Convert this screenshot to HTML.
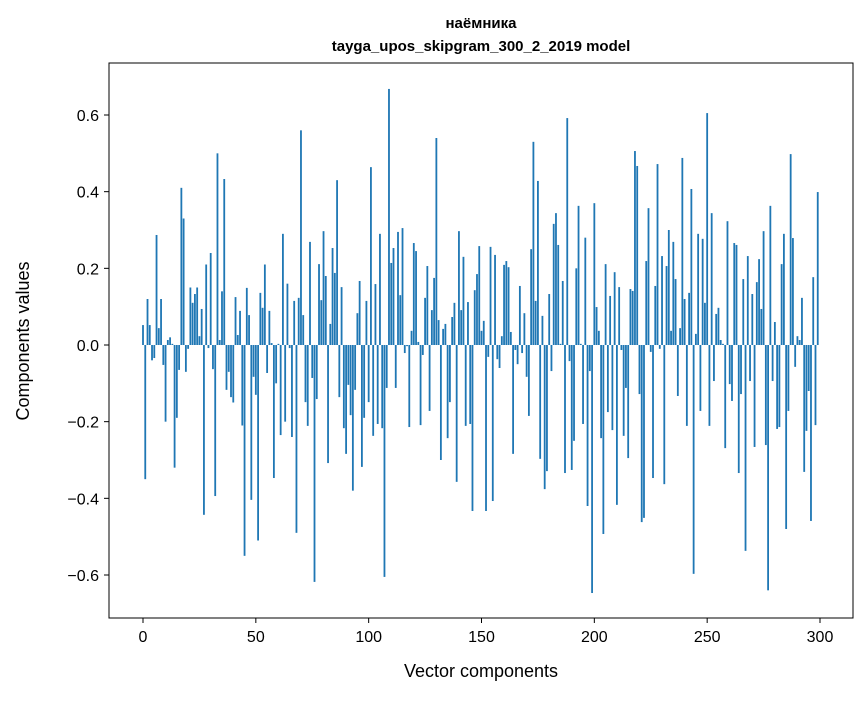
<!DOCTYPE html>
<html><head><meta charset="utf-8"><style>
body{margin:0;background:#fff;}
svg text{font-family:"Liberation Sans","DejaVu Sans",sans-serif;}
</style></head><body>
<svg id="chart" width="867" height="696" xmlns="http://www.w3.org/2000/svg">
<rect width="867" height="696" fill="#fff"/>
<text x="481" y="28" font-size="15" font-weight="bold" text-anchor="middle">наёмника</text>
<text x="481" y="51" font-size="15" font-weight="bold" text-anchor="middle">tayga_upos_skipgram_300_2_2019 model</text>
<g id="bars"></g>
<g id="axes"></g>
<rect x="109" y="63" width="744" height="555" fill="none" stroke="#000" stroke-width="1"/>
<text x="481" y="677" font-size="18" text-anchor="middle">Vector components</text>
<text transform="translate(29,341) rotate(-90)" font-size="18" text-anchor="middle">Components values</text>
</svg>
<script>
const values = [
0.052,-0.35,0.12,0.052,-0.04,-0.034,0.287,0.044,0.12,-0.052,
-0.2,0.013,0.02,0.003,-0.32,-0.19,-0.065,0.41,0.33,-0.07,
-0.01,0.15,0.11,0.133,0.15,0.023,0.094,-0.443,0.21,-0.008,
0.24,-0.063,-0.394,0.5,0.013,0.14,0.433,-0.117,-0.07,-0.136,
-0.15,0.125,0.026,0.089,-0.21,-0.55,0.149,0.078,-0.404,-0.083,
-0.13,-0.51,0.136,0.097,0.21,-0.073,0.089,0.005,-0.347,-0.1,
0.003,-0.235,0.29,-0.2,0.16,-0.008,-0.24,0.115,-0.49,0.123,
0.56,0.078,-0.149,-0.211,0.269,-0.086,-0.618,-0.141,0.211,0.117,
0.297,0.18,-0.308,0.055,0.253,0.188,0.43,-0.136,0.151,-0.217,
-0.284,-0.104,-0.183,-0.38,-0.117,0.083,0.167,-0.318,-0.19,0.115,
-0.149,0.464,-0.237,0.159,-0.206,0.29,-0.217,-0.605,-0.112,0.668,
0.214,0.253,-0.112,0.295,0.13,0.305,-0.021,-0.003,-0.214,0.037,
0.266,0.245,0.008,-0.209,-0.026,0.123,0.206,-0.172,0.091,0.175,
0.54,0.065,-0.3,0.042,0.055,-0.243,-0.149,0.073,0.11,-0.357,
0.297,0.091,0.23,-0.211,0.112,-0.206,-0.433,0.143,0.185,0.258,
0.037,0.063,-0.433,-0.031,0.256,-0.407,0.235,-0.037,-0.06,0.023,
0.209,0.219,0.203,0.034,-0.284,-0.013,-0.05,0.154,-0.021,0.083,
-0.083,-0.185,0.25,0.53,0.115,0.428,-0.297,0.076,-0.376,-0.329,
0.133,-0.068,0.316,0.344,0.261,0.003,0.167,-0.334,0.592,-0.042,
-0.326,-0.25,0.2,0.363,0.003,-0.206,0.28,-0.42,-0.068,-0.647,
0.37,0.099,0.037,-0.243,-0.493,0.211,-0.175,0.128,-0.222,0.19,
-0.417,0.151,-0.013,-0.237,-0.112,-0.295,0.146,0.141,0.506,0.467,
-0.128,-0.462,-0.451,0.219,0.357,-0.018,-0.347,0.154,0.472,-0.01,
0.232,-0.363,0.206,0.3,0.037,0.269,0.172,-0.133,0.044,0.488,
0.12,-0.211,0.136,0.407,-0.597,0.029,0.29,-0.172,0.277,0.11,
0.605,-0.211,0.344,-0.094,0.081,0.097,0.013,0.003,-0.269,0.323,
-0.102,-0.146,0.266,0.261,-0.334,-0.128,0.172,-0.537,0.232,-0.094,
0.133,-0.266,0.164,0.224,0.094,0.297,-0.261,-0.64,0.363,-0.094,
0.06,-0.219,-0.214,0.211,0.29,-0.48,-0.172,0.498,0.279,-0.057,
0.023,0.013,0.123,-0.331,-0.224,-0.12,-0.459,0.177,-0.209,0.399
];
const xTicks = [0,50,100,150,200,250,300];
const yTicks = [-0.6,-0.4,-0.2,0.0,0.2,0.4,0.6];
const yTickLabels = ["\u22120.6","\u22120.4","\u22120.2","0.0","0.2","0.4","0.6"];

const NS = "http://www.w3.org/2000/svg";
function xScale(i){ return 143 + i * (677/300); }
function yScale(v){ return 345 - v * 383.33; }
const barsG = document.getElementById('bars');
const bw = 0.8 * (677/300);
values.forEach((v,i)=>{
  const r = document.createElementNS(NS,'rect');
  const y0 = yScale(0), y1 = yScale(v);
  r.setAttribute('x', xScale(i) - bw/2);
  r.setAttribute('y', Math.min(y0,y1));
  r.setAttribute('width', bw);
  r.setAttribute('height', Math.max(Math.abs(y1-y0),0.3));
  r.setAttribute('fill', '#1f77b4');
  
  
  barsG.appendChild(r);
});
const axesG = document.getElementById('axes');
xTicks.forEach(t=>{
  const x = xScale(t);
  const l = document.createElementNS(NS,'line');
  l.setAttribute('x1',x);l.setAttribute('x2',x);l.setAttribute('y1',618);l.setAttribute('y2',623);
  l.setAttribute('stroke','#000');
  
  
  axesG.appendChild(l);
  const tx = document.createElementNS(NS,'text');
  tx.setAttribute('x',x);tx.setAttribute('y',642);tx.setAttribute('font-size','16');tx.setAttribute('text-anchor','middle');
  tx.textContent = String(t);
  
  
  axesG.appendChild(tx);
});
yTicks.forEach((t,k)=>{
  const y = yScale(t);
  const l = document.createElementNS(NS,'line');
  l.setAttribute('x1',104);l.setAttribute('x2',109);l.setAttribute('y1',y);l.setAttribute('y2',y);
  l.setAttribute('stroke','#000');
  
  
  axesG.appendChild(l);
  const tx = document.createElementNS(NS,'text');
  tx.setAttribute('x',99);tx.setAttribute('y',y+6);tx.setAttribute('font-size','16');tx.setAttribute('text-anchor','end');
  tx.textContent = yTickLabels[k];
  
  
  axesG.appendChild(tx);
});
</script>
</body></html>
